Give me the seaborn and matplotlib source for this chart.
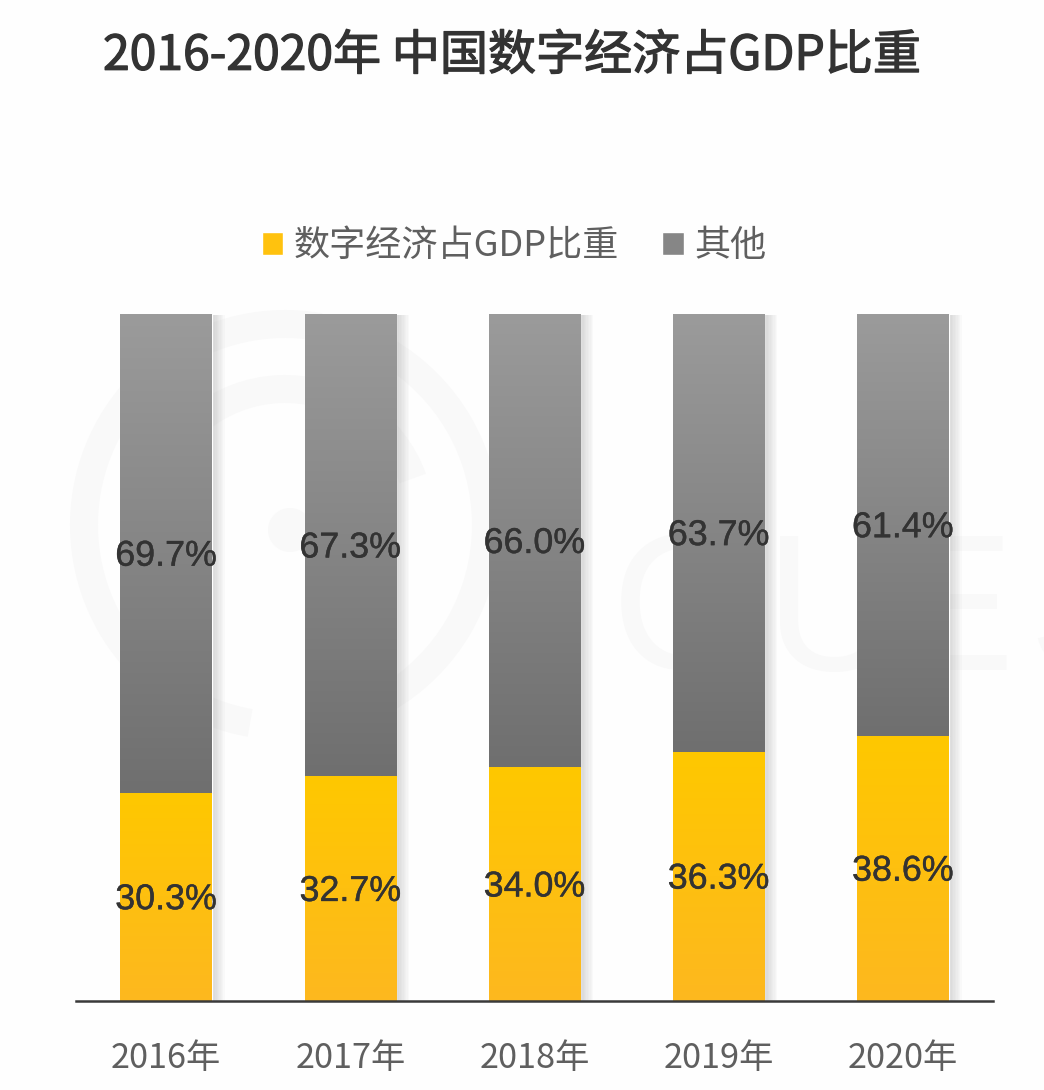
import numpy as np
import pandas as pd
import matplotlib
matplotlib.use("Agg")
import matplotlib.pyplot as plt
import matplotlib.patheffects as pe
from matplotlib.colors import LinearSegmentedColormap
from matplotlib.patches import Wedge, Circle
import seaborn as sns

years = ["2016年", "2017年", "2018年", "2019年", "2020年"]
digital_share = [30.3, 32.7, 34.0, 36.3, 38.6]
other_share = [69.7, 67.3, 66.0, 63.7, 61.4]
series_names = ["数字经济占GDP比重", "其他"]
title_text = "2016-2020年 中国数字经济占GDP比重"
watermark_letters = ["Q", "U", "E", "S"]

sns.set_theme(style="white")
CJK = ["Noto Sans CJK SC", "DejaVu Sans"]
plt.rcParams["font.family"] = CJK

W, H = 1044, 1090
BG = "#fefefe"
fig = plt.figure(figsize=(W / 100, H / 100), dpi=100, facecolor=BG)

# faint watermark, in pixel coordinates, behind everything
wm = fig.add_axes([0, 0, 1, 1], zorder=0)
wm.set_xlim(0, W); wm.set_ylim(H, 0); wm.axis("off")
WM = "#f9f9f9"
wm.add_patch(Wedge((285, 525), 215, 100, 280, width=28, fc=WM, ec="none"))
wm.add_patch(Wedge((285, 525), 215, 300, 60, width=28, fc=WM, ec="none"))
wm.add_patch(Wedge((285, 525), 150, 195, 340, width=28, fc=WM, ec="none"))
wm.add_patch(Circle((290, 530), 22, fc=WM, ec="none"))
for letter, left in zip(watermark_letters, (612, 765, 885, 1028)):
    wm.text(left, 619, letter, fontsize=140, color=WM, family="Liberation Sans",
            va="center", ha="left")

# main axes
ax = fig.add_axes([76 / W, 1 - 1001 / H, (993 - 76) / W, (1001 - 314) / H], zorder=1)
ax.patch.set_alpha(0)

df = pd.DataFrame({"year": years, "digital": digital_share, "other": other_share})
sns.barplot(data=df, x="year", y="digital", color="#ffc20e", width=0.495, saturation=1,
            label=series_names[0], ax=ax, zorder=2)
sns.barplot(data=df, x="year", y="other", bottom=df["digital"], color="#868686", width=0.495,
            saturation=1, label=series_names[1], ax=ax, zorder=2)

ax.set_xlabel(""); ax.set_ylabel("")
ax.set_yticks([])
sns.despine(ax=ax, left=True)
ax.spines["bottom"].set_color("#3a3a3a")
ax.spines["bottom"].set_linewidth(1.8)
ax.tick_params(axis="x", length=0, pad=29, labelsize=24.7, labelcolor="#5f5f5f")

# legend first, so its handles do not take the bars' shadows
ax.set_xlim(-0.489, 4.489)
ax.set_ylim(0, 100)
ax.legend(loc="center", bbox_to_anchor=((514 - 76) / (993 - 76), (1001 - 246) / (1001 - 314)),
          ncol=2, frameon=False, fontsize=26, labelcolor="#5f5f5f",
          handlelength=0.6, handleheight=0.6, handletextpad=0.28, columnspacing=1.2,
          borderpad=0, borderaxespad=0)

gold = LinearSegmentedColormap.from_list("gold", ["#ffc800", "#fdb81f"])
grey = LinearSegmentedColormap.from_list("grey", ["#9b9b9b", "#6f6f6f"])
grad = np.linspace(0, 1, 256).reshape(-1, 1)
shadow_fx = [pe.SimplePatchShadow(offset=(k, -0.7), shadow_rgbFace="#666666", alpha=0.028)
             for k in np.arange(9.5, 0, -1.0)]

for cont, cmap in zip(ax.containers, (gold, grey)):
    for bar in cont:
        bar.set_path_effects(shadow_fx + [pe.Normal()])
        x0, y0, w, h = bar.get_x(), bar.get_y(), bar.get_width(), bar.get_height()
        im = ax.imshow(grad, cmap=cmap, aspect="auto", zorder=2.5,
                       extent=(x0, x0 + w, y0, y0 + h), origin="upper")
        im.set_clip_path(bar)
ax.set_xlim(-0.489, 4.489)
ax.set_ylim(0, 100)

stroke = [pe.withStroke(linewidth=0.3, foreground="#333333")]
for cont, vals in zip(ax.containers, (digital_share, other_share)):
    ax.bar_label(cont, labels=[f"{v:.1f}%" for v in vals], label_type="center", padding=-2,
                 fontsize=25.8, color="#333333", family="Liberation Sans", zorder=5,
                 path_effects=stroke)

fig.text(103 / W, 1 - 56 / H, title_text, fontsize=34.6, color="#333333", weight="medium",
         ha="left", va="center", zorder=3,
         path_effects=[pe.withStroke(linewidth=0.9, foreground="#333333")])

fig.savefig("out.png", dpi=100, facecolor=BG)
